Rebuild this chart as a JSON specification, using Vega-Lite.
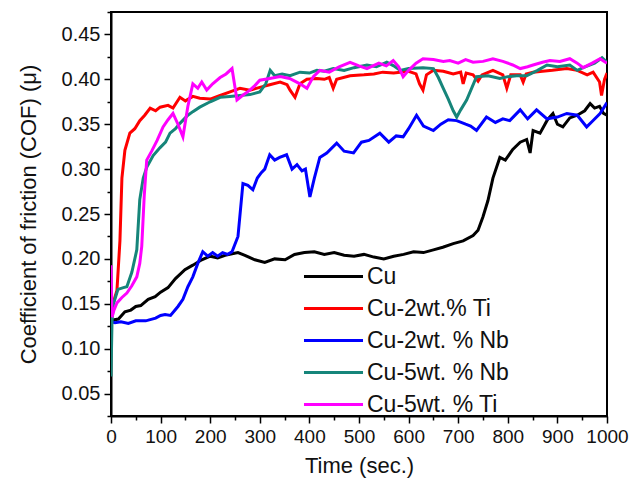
{
  "$schema": "https://vega.github.io/schema/vega-lite/v6.json",
  "width": 496,
  "height": 404,
  "autosize": {"type": "none"},
  "padding": {"left": 111, "top": 12, "right": 25, "bottom": 70},
  "background": "white",
  "config": {
    "view": {"stroke": "black", "strokeWidth": 2},
    "font": "Liberation Sans",
    "axis": {"domainColor": "black", "domainWidth": 2, "tickColor": "black", "tickWidth": 1.5, "labelColor": "#111", "titleColor": "#111", "grid": false, "labelFont": "Liberation Sans", "titleFont": "Liberation Sans", "titleFontWeight": "normal"}
  },
  "data": {"values": [
    {"series":"Cu","t":0,"mu":0.128},{"series":"Cu","t":5,"mu":0.132},{"series":"Cu","t":15,"mu":0.133},{"series":"Cu","t":28,"mu":0.141},{"series":"Cu","t":40,"mu":0.143},{"series":"Cu","t":50,"mu":0.147},{"series":"Cu","t":60,"mu":0.148},{"series":"Cu","t":75,"mu":0.155},{"series":"Cu","t":89,"mu":0.158},{"series":"Cu","t":100,"mu":0.163},{"series":"Cu","t":115,"mu":0.168},{"series":"Cu","t":130,"mu":0.178},{"series":"Cu","t":149,"mu":0.188},{"series":"Cu","t":165,"mu":0.193},{"series":"Cu","t":183,"mu":0.199},{"series":"Cu","t":200,"mu":0.203},{"series":"Cu","t":215,"mu":0.201},{"series":"Cu","t":230,"mu":0.204},{"series":"Cu","t":256,"mu":0.207},{"series":"Cu","t":270,"mu":0.204},{"series":"Cu","t":290,"mu":0.199},{"series":"Cu","t":310,"mu":0.196},{"series":"Cu","t":330,"mu":0.2},{"series":"Cu","t":351,"mu":0.199},{"series":"Cu","t":370,"mu":0.205},{"series":"Cu","t":390,"mu":0.207},{"series":"Cu","t":410,"mu":0.208},{"series":"Cu","t":430,"mu":0.205},{"series":"Cu","t":450,"mu":0.207},{"series":"Cu","t":470,"mu":0.204},{"series":"Cu","t":490,"mu":0.203},{"series":"Cu","t":510,"mu":0.205},{"series":"Cu","t":530,"mu":0.202},{"series":"Cu","t":550,"mu":0.2},{"series":"Cu","t":570,"mu":0.203},{"series":"Cu","t":590,"mu":0.205},{"series":"Cu","t":610,"mu":0.208},{"series":"Cu","t":630,"mu":0.207},{"series":"Cu","t":650,"mu":0.21},{"series":"Cu","t":669,"mu":0.213},{"series":"Cu","t":690,"mu":0.217},{"series":"Cu","t":710,"mu":0.22},{"series":"Cu","t":730,"mu":0.226},{"series":"Cu","t":740,"mu":0.232},{"series":"Cu","t":750,"mu":0.247},{"series":"Cu","t":760,"mu":0.265},{"series":"Cu","t":770,"mu":0.29},{"series":"Cu","t":784,"mu":0.313},{"series":"Cu","t":795,"mu":0.31},{"series":"Cu","t":810,"mu":0.322},{"series":"Cu","t":825,"mu":0.33},{"series":"Cu","t":838,"mu":0.333},{"series":"Cu","t":845,"mu":0.318},{"series":"Cu","t":851,"mu":0.343},{"series":"Cu","t":865,"mu":0.34},{"series":"Cu","t":880,"mu":0.355},{"series":"Cu","t":891,"mu":0.362},{"series":"Cu","t":900,"mu":0.35},{"series":"Cu","t":911,"mu":0.347},{"series":"Cu","t":925,"mu":0.357},{"series":"Cu","t":940,"mu":0.36},{"series":"Cu","t":955,"mu":0.365},{"series":"Cu","t":966,"mu":0.373},{"series":"Cu","t":975,"mu":0.368},{"series":"Cu","t":985,"mu":0.37},{"series":"Cu","t":993,"mu":0.362},{"series":"Cu","t":1000,"mu":0.36},

    {"series":"Cu-2wt.% Ti","t":0,"mu":0.15},{"series":"Cu-2wt.% Ti","t":5,"mu":0.152},{"series":"Cu-2wt.% Ti","t":12,"mu":0.165},{"series":"Cu-2wt.% Ti","t":18,"mu":0.22},{"series":"Cu-2wt.% Ti","t":22,"mu":0.29},{"series":"Cu-2wt.% Ti","t":28,"mu":0.321},{"series":"Cu-2wt.% Ti","t":38,"mu":0.34},{"series":"Cu-2wt.% Ti","t":48,"mu":0.345},{"series":"Cu-2wt.% Ti","t":58,"mu":0.354},{"series":"Cu-2wt.% Ti","t":68,"mu":0.36},{"series":"Cu-2wt.% Ti","t":79,"mu":0.368},{"series":"Cu-2wt.% Ti","t":90,"mu":0.365},{"series":"Cu-2wt.% Ti","t":99,"mu":0.369},{"series":"Cu-2wt.% Ti","t":115,"mu":0.371},{"series":"Cu-2wt.% Ti","t":125,"mu":0.368},{"series":"Cu-2wt.% Ti","t":139,"mu":0.38},{"series":"Cu-2wt.% Ti","t":150,"mu":0.376},{"series":"Cu-2wt.% Ti","t":165,"mu":0.381},{"series":"Cu-2wt.% Ti","t":179,"mu":0.379},{"series":"Cu-2wt.% Ti","t":200,"mu":0.378},{"series":"Cu-2wt.% Ti","t":220,"mu":0.382},{"series":"Cu-2wt.% Ti","t":240,"mu":0.386},{"series":"Cu-2wt.% Ti","t":260,"mu":0.39},{"series":"Cu-2wt.% Ti","t":280,"mu":0.388},{"series":"Cu-2wt.% Ti","t":300,"mu":0.391},{"series":"Cu-2wt.% Ti","t":320,"mu":0.394},{"series":"Cu-2wt.% Ti","t":341,"mu":0.397},{"series":"Cu-2wt.% Ti","t":355,"mu":0.394},{"series":"Cu-2wt.% Ti","t":361,"mu":0.388},{"series":"Cu-2wt.% Ti","t":371,"mu":0.38},{"series":"Cu-2wt.% Ti","t":381,"mu":0.395},{"series":"Cu-2wt.% Ti","t":395,"mu":0.4},{"series":"Cu-2wt.% Ti","t":415,"mu":0.401},{"series":"Cu-2wt.% Ti","t":430,"mu":0.4},{"series":"Cu-2wt.% Ti","t":440,"mu":0.402},{"series":"Cu-2wt.% Ti","t":448,"mu":0.39},{"series":"Cu-2wt.% Ti","t":455,"mu":0.4},{"series":"Cu-2wt.% Ti","t":482,"mu":0.404},{"series":"Cu-2wt.% Ti","t":510,"mu":0.405},{"series":"Cu-2wt.% Ti","t":530,"mu":0.406},{"series":"Cu-2wt.% Ti","t":548,"mu":0.408},{"series":"Cu-2wt.% Ti","t":570,"mu":0.407},{"series":"Cu-2wt.% Ti","t":600,"mu":0.409},{"series":"Cu-2wt.% Ti","t":615,"mu":0.406},{"series":"Cu-2wt.% Ti","t":622,"mu":0.395},{"series":"Cu-2wt.% Ti","t":629,"mu":0.388},{"series":"Cu-2wt.% Ti","t":636,"mu":0.405},{"series":"Cu-2wt.% Ti","t":650,"mu":0.41},{"series":"Cu-2wt.% Ti","t":670,"mu":0.409},{"series":"Cu-2wt.% Ti","t":690,"mu":0.406},{"series":"Cu-2wt.% Ti","t":705,"mu":0.408},{"series":"Cu-2wt.% Ti","t":710,"mu":0.395},{"series":"Cu-2wt.% Ti","t":716,"mu":0.407},{"series":"Cu-2wt.% Ti","t":730,"mu":0.405},{"series":"Cu-2wt.% Ti","t":740,"mu":0.398},{"series":"Cu-2wt.% Ti","t":748,"mu":0.405},{"series":"Cu-2wt.% Ti","t":770,"mu":0.41},{"series":"Cu-2wt.% Ti","t":790,"mu":0.405},{"series":"Cu-2wt.% Ti","t":798,"mu":0.39},{"series":"Cu-2wt.% Ti","t":806,"mu":0.405},{"series":"Cu-2wt.% Ti","t":825,"mu":0.405},{"series":"Cu-2wt.% Ti","t":831,"mu":0.397},{"series":"Cu-2wt.% Ti","t":837,"mu":0.406},{"series":"Cu-2wt.% Ti","t":851,"mu":0.408},{"series":"Cu-2wt.% Ti","t":870,"mu":0.409},{"series":"Cu-2wt.% Ti","t":890,"mu":0.41},{"series":"Cu-2wt.% Ti","t":919,"mu":0.412},{"series":"Cu-2wt.% Ti","t":940,"mu":0.41},{"series":"Cu-2wt.% Ti","t":960,"mu":0.405},{"series":"Cu-2wt.% Ti","t":972,"mu":0.408},{"series":"Cu-2wt.% Ti","t":985,"mu":0.397},{"series":"Cu-2wt.% Ti","t":989,"mu":0.382},{"series":"Cu-2wt.% Ti","t":995,"mu":0.4},{"series":"Cu-2wt.% Ti","t":1000,"mu":0.407},

    {"series":"Cu-2wt. % Nb","t":0,"mu":0.13},{"series":"Cu-2wt. % Nb","t":8,"mu":0.129},{"series":"Cu-2wt. % Nb","t":20,"mu":0.13},{"series":"Cu-2wt. % Nb","t":35,"mu":0.128},{"series":"Cu-2wt. % Nb","t":50,"mu":0.131},{"series":"Cu-2wt. % Nb","t":70,"mu":0.131},{"series":"Cu-2wt. % Nb","t":90,"mu":0.134},{"series":"Cu-2wt. % Nb","t":100,"mu":0.137},{"series":"Cu-2wt. % Nb","t":109,"mu":0.138},{"series":"Cu-2wt. % Nb","t":120,"mu":0.137},{"series":"Cu-2wt. % Nb","t":135,"mu":0.147},{"series":"Cu-2wt. % Nb","t":145,"mu":0.155},{"series":"Cu-2wt. % Nb","t":155,"mu":0.169},{"series":"Cu-2wt. % Nb","t":165,"mu":0.18},{"series":"Cu-2wt. % Nb","t":175,"mu":0.195},{"series":"Cu-2wt. % Nb","t":185,"mu":0.208},{"series":"Cu-2wt. % Nb","t":195,"mu":0.203},{"series":"Cu-2wt. % Nb","t":205,"mu":0.207},{"series":"Cu-2wt. % Nb","t":215,"mu":0.203},{"series":"Cu-2wt. % Nb","t":225,"mu":0.207},{"series":"Cu-2wt. % Nb","t":235,"mu":0.205},{"series":"Cu-2wt. % Nb","t":244,"mu":0.208},{"series":"Cu-2wt. % Nb","t":256,"mu":0.225},{"series":"Cu-2wt. % Nb","t":266,"mu":0.284},{"series":"Cu-2wt. % Nb","t":276,"mu":0.282},{"series":"Cu-2wt. % Nb","t":286,"mu":0.277},{"series":"Cu-2wt. % Nb","t":295,"mu":0.29},{"series":"Cu-2wt. % Nb","t":303,"mu":0.296},{"series":"Cu-2wt. % Nb","t":310,"mu":0.3},{"series":"Cu-2wt. % Nb","t":320,"mu":0.316},{"series":"Cu-2wt. % Nb","t":330,"mu":0.31},{"series":"Cu-2wt. % Nb","t":340,"mu":0.313},{"series":"Cu-2wt. % Nb","t":354,"mu":0.316},{"series":"Cu-2wt. % Nb","t":365,"mu":0.3},{"series":"Cu-2wt. % Nb","t":375,"mu":0.305},{"series":"Cu-2wt. % Nb","t":385,"mu":0.298},{"series":"Cu-2wt. % Nb","t":392,"mu":0.3},{"series":"Cu-2wt. % Nb","t":401,"mu":0.269},{"series":"Cu-2wt. % Nb","t":410,"mu":0.29},{"series":"Cu-2wt. % Nb","t":421,"mu":0.313},{"series":"Cu-2wt. % Nb","t":435,"mu":0.318},{"series":"Cu-2wt. % Nb","t":455,"mu":0.329},{"series":"Cu-2wt. % Nb","t":470,"mu":0.32},{"series":"Cu-2wt. % Nb","t":489,"mu":0.318},{"series":"Cu-2wt. % Nb","t":505,"mu":0.33},{"series":"Cu-2wt. % Nb","t":520,"mu":0.332},{"series":"Cu-2wt. % Nb","t":542,"mu":0.34},{"series":"Cu-2wt. % Nb","t":560,"mu":0.33},{"series":"Cu-2wt. % Nb","t":575,"mu":0.337},{"series":"Cu-2wt. % Nb","t":589,"mu":0.336},{"series":"Cu-2wt. % Nb","t":600,"mu":0.345},{"series":"Cu-2wt. % Nb","t":616,"mu":0.36},{"series":"Cu-2wt. % Nb","t":630,"mu":0.348},{"series":"Cu-2wt. % Nb","t":650,"mu":0.343},{"series":"Cu-2wt. % Nb","t":665,"mu":0.35},{"series":"Cu-2wt. % Nb","t":680,"mu":0.355},{"series":"Cu-2wt. % Nb","t":697,"mu":0.354},{"series":"Cu-2wt. % Nb","t":715,"mu":0.35},{"series":"Cu-2wt. % Nb","t":725,"mu":0.348},{"series":"Cu-2wt. % Nb","t":737,"mu":0.343},{"series":"Cu-2wt. % Nb","t":757,"mu":0.358},{"series":"Cu-2wt. % Nb","t":775,"mu":0.352},{"series":"Cu-2wt. % Nb","t":790,"mu":0.356},{"series":"Cu-2wt. % Nb","t":804,"mu":0.354},{"series":"Cu-2wt. % Nb","t":825,"mu":0.366},{"series":"Cu-2wt. % Nb","t":840,"mu":0.356},{"series":"Cu-2wt. % Nb","t":858,"mu":0.366},{"series":"Cu-2wt. % Nb","t":879,"mu":0.356},{"series":"Cu-2wt. % Nb","t":900,"mu":0.358},{"series":"Cu-2wt. % Nb","t":919,"mu":0.362},{"series":"Cu-2wt. % Nb","t":940,"mu":0.36},{"series":"Cu-2wt. % Nb","t":959,"mu":0.347},{"series":"Cu-2wt. % Nb","t":970,"mu":0.353},{"series":"Cu-2wt. % Nb","t":986,"mu":0.362},{"series":"Cu-2wt. % Nb","t":1000,"mu":0.374},

    {"series":"Cu-5wt. % Nb","t":0,"mu":0.069},{"series":"Cu-5wt. % Nb","t":2,"mu":0.13},{"series":"Cu-5wt. % Nb","t":5,"mu":0.15},{"series":"Cu-5wt. % Nb","t":14,"mu":0.166},{"series":"Cu-5wt. % Nb","t":25,"mu":0.168},{"series":"Cu-5wt. % Nb","t":32,"mu":0.169},{"series":"Cu-5wt. % Nb","t":42,"mu":0.185},{"series":"Cu-5wt. % Nb","t":52,"mu":0.21},{"series":"Cu-5wt. % Nb","t":58,"mu":0.266},{"series":"Cu-5wt. % Nb","t":65,"mu":0.29},{"series":"Cu-5wt. % Nb","t":72,"mu":0.302},{"series":"Cu-5wt. % Nb","t":85,"mu":0.315},{"series":"Cu-5wt. % Nb","t":99,"mu":0.324},{"series":"Cu-5wt. % Nb","t":110,"mu":0.33},{"series":"Cu-5wt. % Nb","t":119,"mu":0.34},{"series":"Cu-5wt. % Nb","t":130,"mu":0.345},{"series":"Cu-5wt. % Nb","t":139,"mu":0.351},{"series":"Cu-5wt. % Nb","t":155,"mu":0.36},{"series":"Cu-5wt. % Nb","t":165,"mu":0.364},{"series":"Cu-5wt. % Nb","t":179,"mu":0.369},{"series":"Cu-5wt. % Nb","t":200,"mu":0.375},{"series":"Cu-5wt. % Nb","t":220,"mu":0.38},{"series":"Cu-5wt. % Nb","t":240,"mu":0.381},{"series":"Cu-5wt. % Nb","t":260,"mu":0.382},{"series":"Cu-5wt. % Nb","t":280,"mu":0.383},{"series":"Cu-5wt. % Nb","t":300,"mu":0.386},{"series":"Cu-5wt. % Nb","t":312,"mu":0.395},{"series":"Cu-5wt. % Nb","t":321,"mu":0.41},{"series":"Cu-5wt. % Nb","t":330,"mu":0.404},{"series":"Cu-5wt. % Nb","t":345,"mu":0.406},{"series":"Cu-5wt. % Nb","t":361,"mu":0.404},{"series":"Cu-5wt. % Nb","t":381,"mu":0.408},{"series":"Cu-5wt. % Nb","t":400,"mu":0.407},{"series":"Cu-5wt. % Nb","t":415,"mu":0.41},{"series":"Cu-5wt. % Nb","t":430,"mu":0.409},{"series":"Cu-5wt. % Nb","t":448,"mu":0.412},{"series":"Cu-5wt. % Nb","t":470,"mu":0.41},{"series":"Cu-5wt. % Nb","t":490,"mu":0.413},{"series":"Cu-5wt. % Nb","t":516,"mu":0.416},{"series":"Cu-5wt. % Nb","t":535,"mu":0.414},{"series":"Cu-5wt. % Nb","t":556,"mu":0.419},{"series":"Cu-5wt. % Nb","t":570,"mu":0.415},{"series":"Cu-5wt. % Nb","t":583,"mu":0.41},{"series":"Cu-5wt. % Nb","t":600,"mu":0.412},{"series":"Cu-5wt. % Nb","t":629,"mu":0.413},{"series":"Cu-5wt. % Nb","t":650,"mu":0.412},{"series":"Cu-5wt. % Nb","t":660,"mu":0.402},{"series":"Cu-5wt. % Nb","t":669,"mu":0.391},{"series":"Cu-5wt. % Nb","t":680,"mu":0.378},{"series":"Cu-5wt. % Nb","t":690,"mu":0.365},{"series":"Cu-5wt. % Nb","t":697,"mu":0.358},{"series":"Cu-5wt. % Nb","t":705,"mu":0.366},{"series":"Cu-5wt. % Nb","t":717,"mu":0.377},{"series":"Cu-5wt. % Nb","t":727,"mu":0.39},{"series":"Cu-5wt. % Nb","t":737,"mu":0.403},{"series":"Cu-5wt. % Nb","t":760,"mu":0.404},{"series":"Cu-5wt. % Nb","t":784,"mu":0.401},{"series":"Cu-5wt. % Nb","t":800,"mu":0.403},{"series":"Cu-5wt. % Nb","t":818,"mu":0.404},{"series":"Cu-5wt. % Nb","t":838,"mu":0.404},{"series":"Cu-5wt. % Nb","t":860,"mu":0.41},{"series":"Cu-5wt. % Nb","t":879,"mu":0.416},{"series":"Cu-5wt. % Nb","t":900,"mu":0.414},{"series":"Cu-5wt. % Nb","t":925,"mu":0.416},{"series":"Cu-5wt. % Nb","t":940,"mu":0.41},{"series":"Cu-5wt. % Nb","t":952,"mu":0.413},{"series":"Cu-5wt. % Nb","t":975,"mu":0.418},{"series":"Cu-5wt. % Nb","t":990,"mu":0.424},{"series":"Cu-5wt. % Nb","t":1000,"mu":0.419},

    {"series":"Cu-5wt. % Ti","t":0,"mu":0.193},{"series":"Cu-5wt. % Ti","t":1,"mu":0.165},{"series":"Cu-5wt. % Ti","t":2,"mu":0.135},{"series":"Cu-5wt. % Ti","t":6,"mu":0.143},{"series":"Cu-5wt. % Ti","t":12,"mu":0.151},{"series":"Cu-5wt. % Ti","t":22,"mu":0.157},{"series":"Cu-5wt. % Ti","t":32,"mu":0.162},{"series":"Cu-5wt. % Ti","t":42,"mu":0.17},{"series":"Cu-5wt. % Ti","t":52,"mu":0.18},{"series":"Cu-5wt. % Ti","t":58,"mu":0.195},{"series":"Cu-5wt. % Ti","t":62,"mu":0.214},{"series":"Cu-5wt. % Ti","t":67,"mu":0.27},{"series":"Cu-5wt. % Ti","t":72,"mu":0.31},{"series":"Cu-5wt. % Ti","t":82,"mu":0.32},{"series":"Cu-5wt. % Ti","t":93,"mu":0.332},{"series":"Cu-5wt. % Ti","t":105,"mu":0.347},{"series":"Cu-5wt. % Ti","t":115,"mu":0.355},{"series":"Cu-5wt. % Ti","t":125,"mu":0.362},{"series":"Cu-5wt. % Ti","t":135,"mu":0.35},{"series":"Cu-5wt. % Ti","t":145,"mu":0.336},{"series":"Cu-5wt. % Ti","t":155,"mu":0.37},{"series":"Cu-5wt. % Ti","t":165,"mu":0.395},{"series":"Cu-5wt. % Ti","t":175,"mu":0.39},{"series":"Cu-5wt. % Ti","t":183,"mu":0.397},{"series":"Cu-5wt. % Ti","t":193,"mu":0.388},{"series":"Cu-5wt. % Ti","t":205,"mu":0.395},{"series":"Cu-5wt. % Ti","t":220,"mu":0.402},{"series":"Cu-5wt. % Ti","t":232,"mu":0.406},{"series":"Cu-5wt. % Ti","t":244,"mu":0.412},{"series":"Cu-5wt. % Ti","t":254,"mu":0.377},{"series":"Cu-5wt. % Ti","t":265,"mu":0.382},{"series":"Cu-5wt. % Ti","t":280,"mu":0.388},{"series":"Cu-5wt. % Ti","t":290,"mu":0.393},{"series":"Cu-5wt. % Ti","t":300,"mu":0.399},{"series":"Cu-5wt. % Ti","t":320,"mu":0.401},{"series":"Cu-5wt. % Ti","t":341,"mu":0.403},{"series":"Cu-5wt. % Ti","t":360,"mu":0.401},{"series":"Cu-5wt. % Ti","t":381,"mu":0.395},{"series":"Cu-5wt. % Ti","t":395,"mu":0.39},{"series":"Cu-5wt. % Ti","t":408,"mu":0.403},{"series":"Cu-5wt. % Ti","t":421,"mu":0.41},{"series":"Cu-5wt. % Ti","t":440,"mu":0.408},{"series":"Cu-5wt. % Ti","t":460,"mu":0.414},{"series":"Cu-5wt. % Ti","t":482,"mu":0.419},{"series":"Cu-5wt. % Ti","t":500,"mu":0.415},{"series":"Cu-5wt. % Ti","t":516,"mu":0.412},{"series":"Cu-5wt. % Ti","t":540,"mu":0.418},{"series":"Cu-5wt. % Ti","t":555,"mu":0.415},{"series":"Cu-5wt. % Ti","t":569,"mu":0.421},{"series":"Cu-5wt. % Ti","t":580,"mu":0.414},{"series":"Cu-5wt. % Ti","t":589,"mu":0.403},{"series":"Cu-5wt. % Ti","t":600,"mu":0.41},{"series":"Cu-5wt. % Ti","t":615,"mu":0.418},{"series":"Cu-5wt. % Ti","t":629,"mu":0.423},{"series":"Cu-5wt. % Ti","t":650,"mu":0.422},{"series":"Cu-5wt. % Ti","t":670,"mu":0.42},{"series":"Cu-5wt. % Ti","t":683,"mu":0.421},{"series":"Cu-5wt. % Ti","t":700,"mu":0.418},{"series":"Cu-5wt. % Ti","t":715,"mu":0.422},{"series":"Cu-5wt. % Ti","t":730,"mu":0.419},{"series":"Cu-5wt. % Ti","t":750,"mu":0.42},{"series":"Cu-5wt. % Ti","t":770,"mu":0.423},{"series":"Cu-5wt. % Ti","t":790,"mu":0.42},{"series":"Cu-5wt. % Ti","t":810,"mu":0.416},{"series":"Cu-5wt. % Ti","t":825,"mu":0.412},{"series":"Cu-5wt. % Ti","t":840,"mu":0.414},{"series":"Cu-5wt. % Ti","t":851,"mu":0.416},{"series":"Cu-5wt. % Ti","t":870,"mu":0.419},{"series":"Cu-5wt. % Ti","t":885,"mu":0.421},{"series":"Cu-5wt. % Ti","t":905,"mu":0.42},{"series":"Cu-5wt. % Ti","t":925,"mu":0.423},{"series":"Cu-5wt. % Ti","t":940,"mu":0.418},{"series":"Cu-5wt. % Ti","t":952,"mu":0.413},{"series":"Cu-5wt. % Ti","t":970,"mu":0.418},{"series":"Cu-5wt. % Ti","t":986,"mu":0.423},{"series":"Cu-5wt. % Ti","t":1000,"mu":0.418}
  ]},
  "mark": {"type": "line", "strokeWidth": 3, "clip": true},
  "encoding": {
    "x": {
      "field": "t", "type": "quantitative",
      "scale": {"domain": [0, 1000], "nice": false, "zero": false},
      "axis": {
        "title": "Time (sec.)", "titleFontSize": 22, "titlePadding": 9,
        "values": [0,50,100,150,200,250,300,350,400,450,500,550,600,650,700,750,800,850,900,950,1000],
        "labelExpr": "datum.value % 100 === 0 ? datum.label : ''",
        "labelFontSize": 19, "labelPadding": 4, "labelOverlap": false, "labelFlush": false,
        "tickSize": {"condition": {"test": "datum.value % 100 !== 0", "value": 4}, "value": 7},
        "format": "d"
      }
    },
    "y": {
      "field": "mu", "type": "quantitative",
      "scale": {"domain": [0.025, 0.475], "nice": false, "zero": false},
      "axis": {
        "title": "Coefficient of friction (COF) (μ)", "titleFontSize": 22, "titlePadding": 21,
        "values": [0.025,0.05,0.075,0.1,0.125,0.15,0.175,0.2,0.225,0.25,0.275,0.3,0.325,0.35,0.375,0.4,0.425,0.45,0.475],
        "labelExpr": "round(datum.value*1000) % 50 === 0 ? format(datum.value, '.2f') : ''",
        "labelFontSize": 20, "labelPadding": 4, "labelOverlap": false,
        "tickSize": {"condition": {"test": "round(datum.value*1000) % 50 !== 0", "value": 4}, "value": 7}
      }
    },
    "color": {
      "field": "series", "type": "nominal",
      "scale": {
        "domain": ["Cu", "Cu-2wt.% Ti", "Cu-2wt. % Nb", "Cu-5wt. % Nb", "Cu-5wt. % Ti"],
        "range": ["#000000", "#ff0000", "#0000ff", "#16857a", "#ff00ff"]
      },
      "legend": {
        "orient": "none", "legendX": 211, "legendY": 253, "title": null,
        "symbolType": "M-3,0H3", "symbolSize": 387, "symbolStrokeWidth": 3,
        "labelFontSize": 23, "labelFont": "Liberation Sans", "labelColor": "#111",
        "labelOffset": 22, "rowPadding": 8, "padding": 0
      }
    }
  }
}
